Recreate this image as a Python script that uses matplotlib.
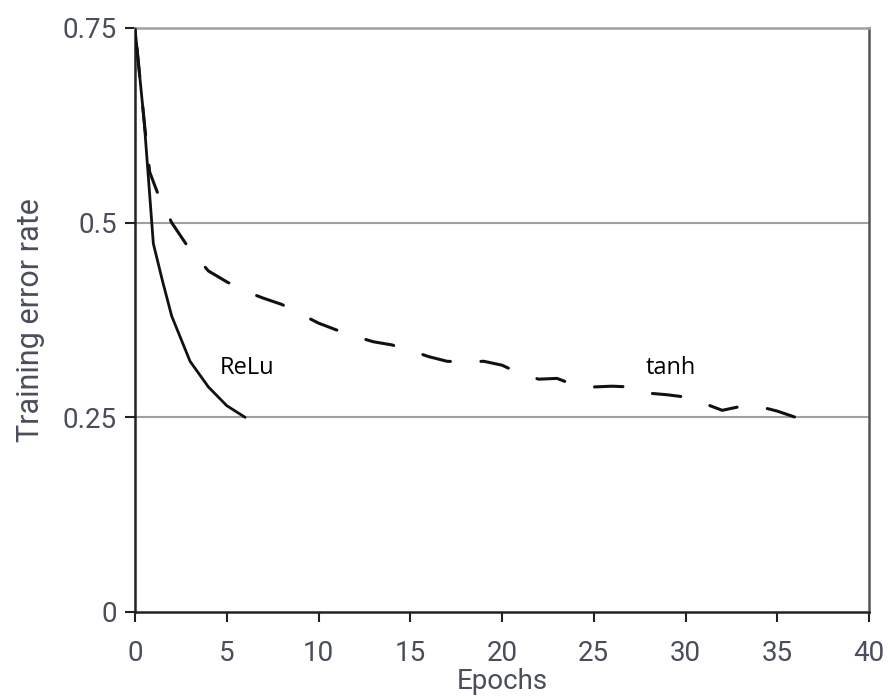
import matplotlib
matplotlib.use("Agg")
import matplotlib.pyplot as plt
import numpy as np

# ---- data ----
relu_x = [0, 0.5, 1, 1.5, 2, 3, 4, 5, 6]
relu_y = [0.75, 0.63, 0.473, 0.425, 0.38, 0.322, 0.289, 0.265, 0.25]

tanh_x = [0, 0.5, 0.8, 1.2, 2, 3, 4, 5, 6, 7, 8, 9, 10, 11, 12, 13, 14, 15, 16,
          17, 18, 19, 20, 21, 22, 23, 24, 25, 26, 27, 28, 29, 30, 31, 32, 33,
          34, 35, 36]
tanh_y = [0.75, 0.63, 0.565, 0.54, 0.50, 0.465, 0.438, 0.424, 0.412, 0.403,
          0.395, 0.383, 0.371, 0.362, 0.354, 0.347, 0.343, 0.336, 0.328, 0.322,
          0.321, 0.322, 0.317, 0.306, 0.299, 0.300, 0.291, 0.289, 0.290, 0.289,
          0.281, 0.279, 0.276, 0.268, 0.259, 0.264, 0.264, 0.258, 0.25]

x_ticks = [0, 5, 10, 15, 20, 25, 30, 35, 40]
y_ticks = [0, 0.25, 0.5, 0.75]
y_tick_labels = ["0", "0.25", "0.5", "0.75"]
x_label = "Epochs"
y_label = "Training error rate"
relu_label = "ReLu"
tanh_label = "tanh"

plt.rcParams['lines.scale_dashes'] = False

DPI = 100
fig = plt.figure(figsize=(8.88, 6.99), dpi=DPI)
ax = fig.add_axes([135/888, 87/699, (869-135)/888, (612-28)/699])

tick_font = ['Roboto', 'DejaVu Sans']
text_col = '#4a4d5c'
tick_weight = 'normal'

ax.set_xlim(0, 40)
ax.set_ylim(0, 0.75)

# grid lines
for yv in [0.25, 0.5]:
    ax.axhline(yv, color='#a0a0a0', lw=1.5, zorder=1)

ax.plot(relu_x, relu_y, color='#111111', lw=2.0, zorder=3, solid_capstyle='round')

# dash phase so that a dash starts near x = 9.6 as in the reference
dash_on, dash_off = 20.5, 22.0
period = dash_on + dash_off
pts = ax.transData.transform(np.column_stack([tanh_x, tanh_y])) * 72.0 / DPI
seg = np.hypot(np.diff(pts[:, 0]), np.diff(pts[:, 1]))
cum = np.concatenate([[0], np.cumsum(seg)])
L = np.interp(9.57, tanh_x, cum)
offset = (-L) % period
ax.plot(tanh_x, tanh_y, color='#111111', lw=2.2, zorder=3,
        linestyle=(offset, (dash_on, dash_off)), dash_capstyle='round')

ax.text(6.1, 0.313, relu_label, fontsize=17, family=['Open Sans', 'DejaVu Sans'],
        ha='center', va='center', color='black')
ax.text(29.2, 0.313, tanh_label, fontsize=17, family=['Open Sans', 'DejaVu Sans'],
        ha='center', va='center', color='black')

ax.set_xticks(x_ticks)
ax.set_xticklabels([str(v) for v in x_ticks], family=tick_font, fontsize=20,
                   color=text_col, fontweight=tick_weight)
ax.set_yticks(y_ticks)
ax.set_yticklabels(y_tick_labels, family=tick_font, fontsize=20,
                   color=text_col, fontweight=tick_weight)
ax.tick_params(axis='both', direction='out', length=7, width=1.5, color='#222222')
ax.tick_params(axis='x', pad=13)
ax.tick_params(axis='y', pad=6)

ax.spines['left'].set_color('#222222')
ax.spines['bottom'].set_color('#222222')
ax.spines['top'].set_color('#a0a0a0')
ax.spines['right'].set_color('#555555')
for s in ax.spines.values():
    s.set_linewidth(1.8)

ax.set_xlabel(x_label, family=tick_font, fontsize=20, color=text_col,
              fontweight=tick_weight, labelpad=1)
ax.set_ylabel(y_label, family=tick_font, fontsize=22, color=text_col,
              fontweight=tick_weight, labelpad=13)

fig.savefig("out.png", dpi=DPI)
